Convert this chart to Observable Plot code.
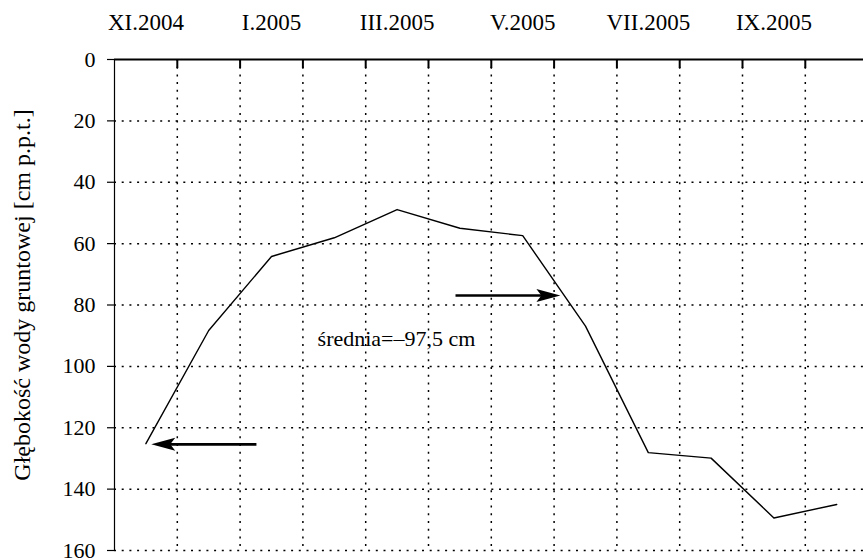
<!DOCTYPE html>
<html>
<head>
<meta charset="utf-8">
<script src="https://cdn.jsdelivr.net/npm/d3@7"></script>
<script src="https://cdn.jsdelivr.net/npm/@observablehq/plot@0.6"></script>
<style>
  html, body { margin: 0; padding: 0; background: #fff; }
  #chart svg { display: block; }
  #chart svg, #chart svg text { font-family: "Liberation Serif", "Times New Roman", serif !important; }
</style>
</head>
<body>
<div id="chart"></div>
<script>
// Months (one column each), measured depth (cm below ground) at mid-month
const months = ["XI.2004","XII.2004","I.2005","II.2005","III.2005","IV.2005","V.2005","VI.2005","VII.2005","VIII.2005","IX.2005","X.2005"];
const depth = [125.2, 88.3, 64.2, 58.1, 48.9, 55.0, 57.4, 86.9, 128.1, 129.9, 149.4, 145.0];
const labelledMonths = ["XI.2004","I.2005","III.2005","V.2005","VII.2005","IX.2005"];
const yTicks = [0, 20, 40, 60, 80, 100, 120, 140, 160];
const yLabel = "Głębokość wody gruntowej [cm p.p.t.]";
const annotation = "średnia=–97,5 cm";
const annotationX = 4.49, annotationY = 91;
// arrows: tail position, tip position (in month-column units), depth level
const arrowTail = [2.26, 5.43];
const arrowTip = [0.585, 7.10];
const arrowDepth = [125.4, 76.9];

const points = months.map((m, i) => ({month: m, x: i + 0.5, depth: depth[i]}));
const arrows = arrowTail.map((t, i) => ({tail: t, tip: arrowTip[i], y: arrowDepth[i]}));
const monthBoundaries = months.map((m, i) => i).filter(i => i > 0);
const labelPositions = labelledMonths.map(m => months.indexOf(m) + 0.5);

const arrowHead = {
  draw(ctx) {
    ctx.moveTo(0, 0);
    ctx.lineTo(-24, -6.5);
    ctx.lineTo(-19, 0);
    ctx.lineTo(-24, 6.5);
    ctx.closePath();
  }
};

const serif = "'Liberation Serif', 'Times New Roman', serif";
const dotted = "2,5.7";

const chart = Plot.plot({
  width: 863,
  height: 558,
  marginTop: 59,
  marginBottom: 8,
  marginLeft: 114,
  marginRight: 0,
  style: {fontFamily: serif, background: "#fff", color: "#000"},
  x: {domain: [0, months.length], range: [114, 867.6]},
  y: {domain: [0, 160], reverse: true},
  marks: [
    Plot.gridY(yTicks.filter(t => t > 0), {stroke: "#000", strokeOpacity: 1, strokeWidth: 1.5, strokeDasharray: dotted}),
    Plot.gridX(monthBoundaries, {stroke: "#000", strokeOpacity: 1, strokeWidth: 1.5, strokeDasharray: dotted}),
    Plot.ruleX([0], {stroke: "#000", strokeWidth: 1.2}),
    Plot.ruleY([0], {stroke: "#000", strokeWidth: 1.8}),
    Plot.axisX(monthBoundaries, {anchor: "top", tickSize: -8, strokeWidth: 2, tickFormat: () => "", label: null}),
    Plot.axisX(labelPositions, {anchor: "top", tickSize: 0, tickPadding: 30, fontSize: 23, fontFamily: serif, label: null, tickFormat: v => months[Math.floor(v)]}),
    Plot.axisY(yTicks, {anchor: "left", tickSize: 7, tickPadding: 12, fontSize: 22, fontFamily: serif, strokeWidth: 1.2, label: null}),
    Plot.text([yLabel], {frameAnchor: "left", dx: -92, dy: -10, rotate: -90, text: d => d, fontSize: 24, fontFamily: serif, fill: "#000", textAnchor: "middle"}),
    Plot.line(points, {x: "x", y: "depth", stroke: "#000", strokeWidth: 1.4}),
    Plot.arrow(arrows, {x1: "tail", y1: "y", x2: "tip", y2: "y", headLength: 0, insetEnd: 14, stroke: "#000", strokeWidth: 2.7, strokeLinecap: "butt"}),
    Plot.dot(arrows, {x: "tip", y: "y", r: 5, symbol: arrowHead, fill: "#000", stroke: "none", rotate: d => d.tip < d.tail ? 180 : 0}),
    Plot.text([annotation], {x: annotationX, y: annotationY, text: d => d, fontSize: 22, fontFamily: serif, fill: "#000"})
  ]
});
document.getElementById("chart").appendChild(chart);
</script>
</body>
</html>
